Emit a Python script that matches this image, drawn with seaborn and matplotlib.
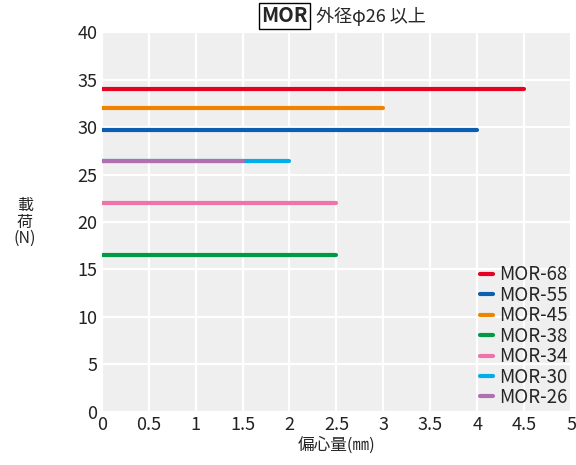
import pandas as pd
import numpy as np
import matplotlib.pyplot as plt
import seaborn as sns

# series
models = ['MOR-68', 'MOR-55', 'MOR-45', 'MOR-38', 'MOR-34', 'MOR-30', 'MOR-26']
load_n = [34.0, 29.7, 32.0, 16.5, 22.0, 26.4, 26.4]
max_ecc = [4.5, 4.0, 3.0, 2.5, 2.5, 2.0, 1.5]
colors = ['#e60021', '#0b5eb0', '#f08300', '#009a44', '#ef72a8', '#00aeea', '#b070b0']

x_ticks = [0, 0.5, 1, 1.5, 2, 2.5, 3, 3.5, 4, 4.5, 5]
x_labels = ['0', '0.5', '1', '1.5', '2', '2.5', '3', '3.5', '4', '4.5', '5']
y_ticks = [0, 5, 10, 15, 20, 25, 30, 35, 40]

# each model is a flat line from 0 to its max eccentricity
rows = []
for m, y, xe in zip(models, load_n, max_ecc):
    rows.append({'model': m, 'ecc': 0.0, 'load': y})
    rows.append({'model': m, 'ecc': xe, 'load': y})
df = pd.DataFrame(rows)

sns.set_theme(style='darkgrid', rc={'axes.facecolor': '#efefef', 'grid.color': 'white',
                                   'grid.linewidth': 1.6})
plt.rcParams['font.family'] = ['Noto Sans CJK JP', 'DejaVu Sans']

fig, ax = plt.subplots(figsize=(5.76, 4.65), dpi=100)
fig.subplots_adjust(left=0.1766, right=0.9915, bottom=0.1146, top=0.9305)

sns.lineplot(data=df, x='ecc', y='load', hue='model', hue_order=models,
             palette=dict(zip(models, colors)), sort=False, linewidth=3,
             ax=ax, legend=True)

ax.set_xlim(0, 5)
ax.set_ylim(0, 40)
ax.set_xticks(x_ticks)
ax.set_xticklabels(x_labels)
ax.set_yticks(y_ticks)
ax.tick_params(axis='both', labelsize=13, length=0, pad=3, colors='#222222')
for s in ax.spines.values():
    s.set_visible(False)

ax.set_xlabel('偏心量(㎜)', fontsize=12, labelpad=2)
ax.set_ylabel('')
fig.text(25 / 576, 1 - 222 / 465, '載\n荷\n(N)', ha='center', va='center',
         fontsize=11.5, linespacing=0.95)

leg = ax.legend(loc='lower right', frameon=False, fontsize=13.5,
                handlelength=0.7, handletextpad=0.3, labelspacing=-0.03,
                borderaxespad=0.1, borderpad=0.1)
for h in leg.get_lines():
    h.set_linewidth(3)

# title: boxed MOR followed by the size range
fig.text(261 / 576, 1 - 16 / 465, 'MOR', fontsize=14.5, fontweight='bold',
         ha='left', va='center',
         bbox=dict(boxstyle='square,pad=0.12', facecolor='white', edgecolor='black', linewidth=1))
fig.text(316 / 576, 1 - 16 / 465, '外径φ26 以上', fontsize=13, ha='left', va='center')

fig.savefig('out.png', dpi=100)
